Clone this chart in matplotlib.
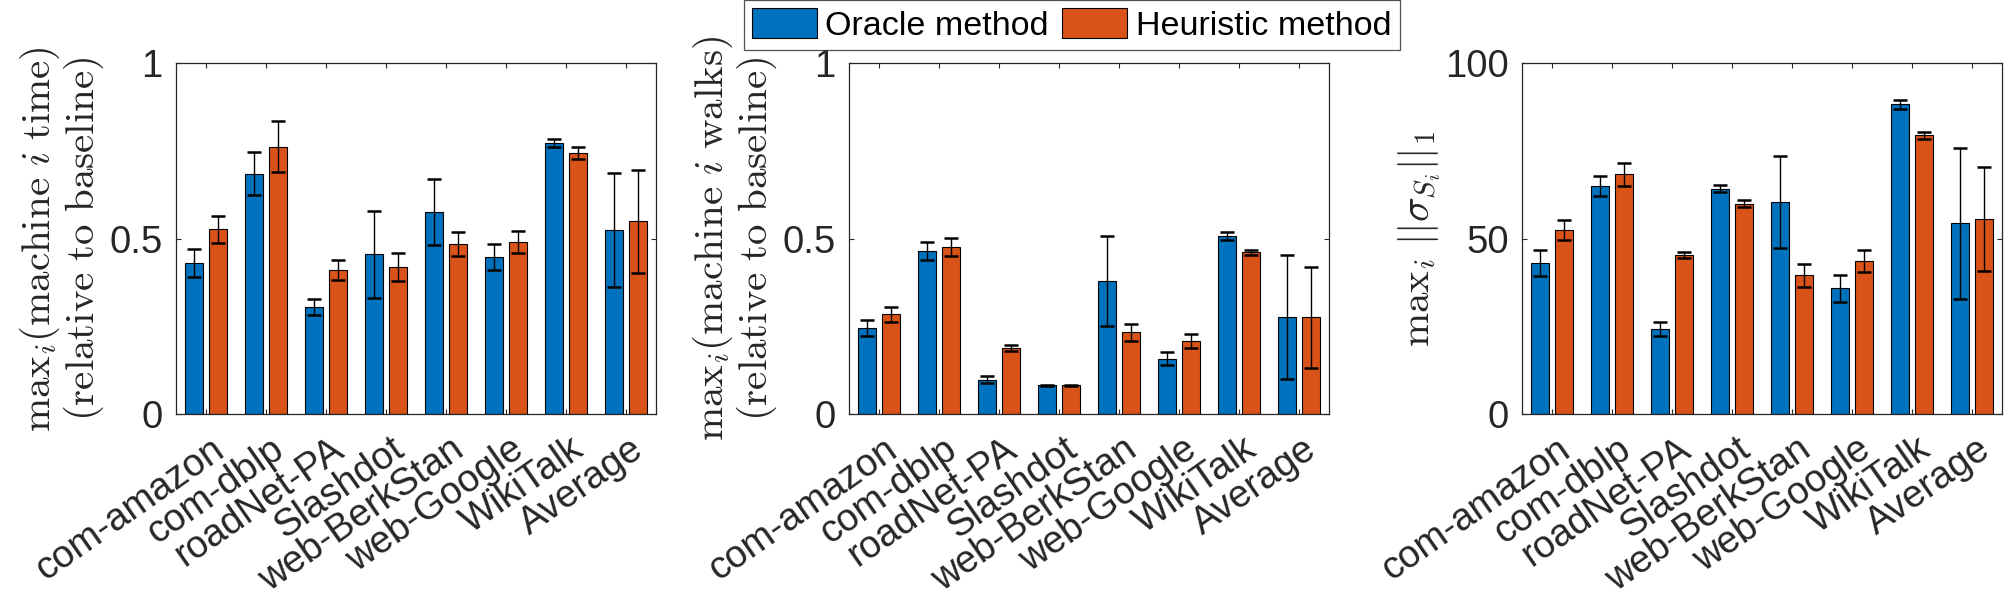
import numpy as np
import matplotlib
matplotlib.use('Agg')
import matplotlib.pyplot as plt
from matplotlib.transforms import ScaledTranslation

# Данные
datasets = ['com-amazon', 'com-dblp', 'roadNet-PA', 'Slashdot',
            'web-BerkStan', 'web-Google', 'WikiTalk', 'Average']

# max_i(machine i time), relative to baseline
time_oracle = [0.430, 0.685, 0.305, 0.456, 0.575, 0.448, 0.773, 0.524]
time_oracle_err = [0.040, 0.061, 0.022, 0.124, 0.094, 0.038, 0.012, 0.163]
time_heur = [0.527, 0.762, 0.410, 0.419, 0.484, 0.490, 0.745, 0.550]
time_heur_err = [0.039, 0.073, 0.029, 0.039, 0.034, 0.031, 0.017, 0.147]

# max_i(machine i walks), relative to baseline
walks_oracle = [0.246, 0.465, 0.098, 0.082, 0.379, 0.158, 0.507, 0.276]
walks_oracle_err = [0.023, 0.026, 0.009, 0.002, 0.128, 0.018, 0.012, 0.176]
walks_heur = [0.284, 0.476, 0.188, 0.082, 0.233, 0.207, 0.461, 0.276]
walks_heur_err = [0.022, 0.025, 0.008, 0.002, 0.025, 0.020, 0.008, 0.144]

# max_i ||sigma_{S_i}||_1
sigma_oracle = [43.0, 65.0, 24.1, 64.2, 60.4, 35.8, 88.3, 54.4]
sigma_oracle_err = [3.7, 2.8, 2.0, 1.0, 13.2, 3.8, 1.2, 21.5]
sigma_heur = [52.4, 68.3, 45.3, 60.0, 39.5, 43.6, 79.5, 55.6]
sigma_heur_err = [2.8, 3.3, 0.8, 1.0, 3.3, 3.2, 1.0, 14.7]

blue = '#0072BD'
orange = '#D95319'
dark = '#262626'

plt.rcParams['font.family'] = ['Liberation Sans', 'DejaVu Sans']
plt.rcParams['mathtext.fontset'] = 'cm'

fig = plt.figure(figsize=(20.15, 6), dpi=100)

# позиции осей в долях фигуры
lefts = [0.0872, 0.4212, 0.7555]
bottom, width, height = 0.31, 0.2382, 0.5845

panels = [
    (time_oracle, time_oracle_err, time_heur, time_heur_err,
     '$\\mathrm{max}_i(\\mathrm{machine}\\ i\\ \\mathrm{time})$\n$(\\mathrm{relative\\ to\\ baseline})$',
     [0, 0.5, 1], ['0', '0.5', '1']),
    (walks_oracle, walks_oracle_err, walks_heur, walks_heur_err,
     '$\\mathrm{max}_i(\\mathrm{machine}\\ i\\ \\mathrm{walks})$\n$(\\mathrm{relative\\ to\\ baseline})$',
     [0, 0.5, 1], ['0', '0.5', '1']),
    (sigma_oracle, sigma_oracle_err, sigma_heur, sigma_heur_err,
     '$\\mathrm{max}_i\\ ||\\sigma_{S_i}||_1$',
     [0, 50, 100], ['0', '50', '100']),
]

x = np.arange(1, len(datasets) + 1)
err_kw = dict(ecolor='black', elinewidth=1.0, capthick=1.8)

for left, (o, oe, h, he, ylabel, yt, ytl) in zip(lefts, panels):
    ax = fig.add_axes([left, bottom, width, height])
    b1 = ax.bar(x - 0.2, o, width=0.3, color=blue, edgecolor='black', linewidth=0.8,
                yerr=oe, capsize=5, error_kw=err_kw, label='Oracle method')
    b2 = ax.bar(x + 0.2, h, width=0.3, color=orange, edgecolor='black', linewidth=0.8,
                yerr=he, capsize=5, error_kw=err_kw, label='Heuristic method')
    ax.set_xlim(0.5, len(datasets) + 0.5)
    ax.set_ylim(yt[0], yt[-1])
    ax.set_yticks(yt)
    ax.set_yticklabels(ytl)
    ax.set_xticks(x)
    ax.tick_params(axis='both', direction='in', length=3.6, width=0.8, colors=dark,
                   labelsize=27.5, top=True, right=True)
    ax.tick_params(axis='y', pad=9.5)
    ax.tick_params(axis='x', pad=2)
    ax.set_xticklabels(datasets, rotation=35, ha='right', va='center',
                       rotation_mode='anchor')
    # сдвиг подписей, как в MATLAB (после tick_params, иначе сбрасывается)
    for lab in ax.get_xticklabels():
        lab.set_transform(lab.get_transform() + ScaledTranslation(0.145, -0.29, fig.dpi_scale_trans))
    for sp in ax.spines.values():
        sp.set_linewidth(0.9)
        sp.set_color(dark)
    ax.set_ylabel(ylabel, fontsize=29.5, color=dark, labelpad=2, linespacing=1.0)

leg = fig.legend([b1, b2], ['Oracle method', 'Heuristic method'], loc='center',
                 bbox_to_anchor=(0.5318, 0.9583), ncol=2, fontsize=24.5, frameon=True,
                 fancybox=False, edgecolor=dark, handlelength=1.9, handleheight=0.97,
                 handletextpad=0.25, columnspacing=0.4, borderpad=0.25, borderaxespad=0)
leg.get_frame().set_linewidth(0.9)

fig.savefig('out.png', dpi=100)
